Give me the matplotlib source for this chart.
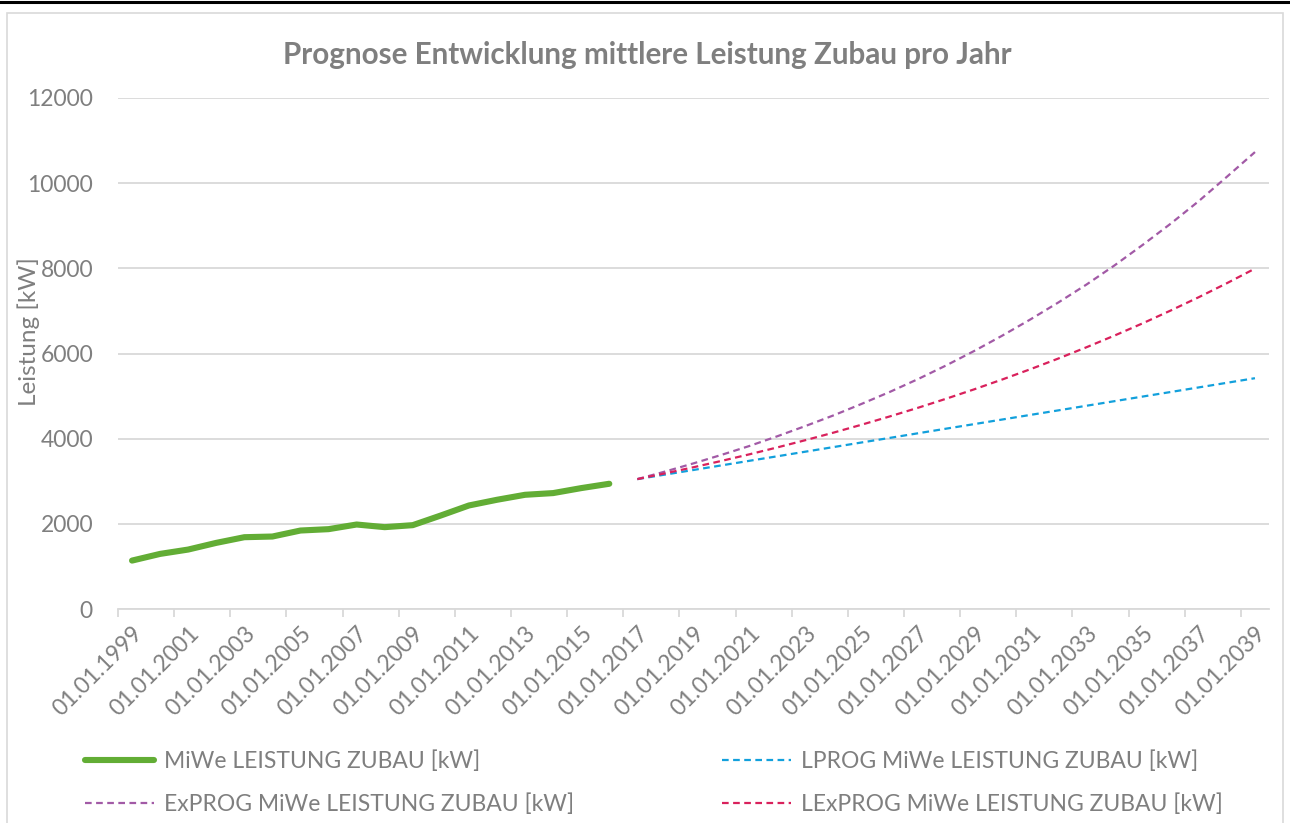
import matplotlib
matplotlib.use("Agg")
import matplotlib.pyplot as plt
from matplotlib.lines import Line2D
from matplotlib.patches import Rectangle
from matplotlib.ticker import FixedLocator, NullFormatter

plt.rcParams['font.family'] = ['Lato', 'DejaVu Sans']

# ---- data ----
years = list(range(1999, 2040))
tick_labels = ["01.01.%d" % y for y in years[::2]]

hist_years = list(range(1999, 2017))
miwe = [1137, 1294, 1396, 1553, 1686, 1702, 1843, 1875, 1984, 1922, 1969,
        2196, 2431, 2565, 2682, 2722, 2839, 2941]

prog_years = list(range(2017, 2040))
lprog = [3050, 3158, 3265, 3373, 3481, 3588, 3696, 3804, 3912, 4019, 4127,
         4235, 4342, 4450, 4558, 4665, 4773, 4881, 4989, 5096, 5204, 5312, 5420]
exprog = [3050, 3230, 3420, 3620, 3830, 4060, 4300, 4550, 4820, 5100, 5400,
          5720, 6060, 6420, 6800, 7200, 7620, 8070, 8550, 9050, 9580, 10150, 10730]
lexprog = [3050, 3187, 3329, 3478, 3634, 3797, 3967, 4144, 4330, 4524, 4726,
           4938, 5159, 5390, 5631, 5883, 6147, 6422, 6709, 7010, 7323, 7651, 7994]

names = ["MiWe LEISTUNG ZUBAU [kW]", "LPROG MiWe LEISTUNG ZUBAU [kW]",
         "ExPROG MiWe LEISTUNG ZUBAU [kW]", "LExPROG MiWe LEISTUNG ZUBAU [kW]"]
title = "Prognose Entwicklung mittlere Leistung Zubau pro Jahr"
ylabel = "Leistung [kW]"

# ---- styles ----
TXT = '#7f7f7f'
GRID = '#d9d9d9'
C_GREEN = '#62ad35'
C_BLUE = '#12a0dc'
C_PURPLE = '#a25aa6'
C_RED = '#d9215c'
FS = 16.5

W, H = 1290, 823
fig = plt.figure(figsize=(W / 100, H / 100), dpi=100)
fig.patch.set_facecolor('white')

# chart frame
fig.add_artist(Rectangle((7 / W, -0.01), (1283 - 7) / W, 1 - 13 / H + 0.01,
                         transform=fig.transFigure, fill=False,
                         edgecolor='#d9d9d9', lw=1.2))
fig.add_artist(Line2D([0, 1], [1 - 1.5 / H, 1 - 1.5 / H],
                      transform=fig.transFigure, color='black', lw=2.2))

ax = fig.add_axes([118 / W, 1 - 609 / H, (1269 - 118) / W, (609 - 98) / H])

xi = {y: i for i, y in enumerate(years)}
hx = [xi[y] for y in hist_years]
px = [xi[y] for y in prog_years]

ax.plot(hx, miwe, color=C_GREEN, lw=4.4, solid_capstyle='round',
        solid_joinstyle='round', label=names[0], zorder=5)
dash = (0, (3.0, 2.0))
ax.plot(px, lprog, color=C_BLUE, lw=1.6, linestyle=dash, label=names[1], zorder=4)
ax.plot(px, exprog, color=C_PURPLE, lw=1.6, linestyle=dash, label=names[2], zorder=4)
ax.plot(px, lexprog, color=C_RED, lw=1.6, linestyle=dash, label=names[3], zorder=4)

ax.set_xlim(-0.5, len(years) - 0.5)
ax.set_ylim(0, 12000)
ax.set_yticks(range(0, 12001, 2000))
ax.yaxis.grid(True, color=GRID, lw=1.3)
ax.set_axisbelow(True)

ax.xaxis.set_major_locator(FixedLocator(list(range(0, len(years), 2))))
ax.set_xticklabels(tick_labels, rotation=45, ha='right', va='top',
                   rotation_mode='anchor', color=TXT, fontsize=FS)
ax.xaxis.set_minor_locator(FixedLocator([i - 0.5 for i in range(0, len(years), 2)]))
ax.xaxis.set_minor_formatter(NullFormatter())
ax.tick_params(axis='x', which='major', length=0, pad=10)
ax.tick_params(axis='x', which='minor', length=6, width=1.3, color=GRID)
ax.tick_params(axis='y', length=0, pad=18, labelcolor=TXT, labelsize=FS)

for s in ['top', 'right', 'left']:
    ax.spines[s].set_visible(False)
ax.spines['bottom'].set_color(GRID)
ax.spines['bottom'].set_linewidth(1.3)

fig.text(647 / W, 1 - 55 / H, title, ha='center', va='center',
         fontsize=21.3, fontweight='bold', color=TXT)
fig.text(29 / W, 1 - 332 / H, ylabel, ha='center', va='center',
         rotation=90, fontsize=17.5, color=TXT)

h = ax.get_lines()
common = dict(loc='upper left', frameon=False, fontsize=FS, labelcolor=TXT,
              handlelength=3.0, handletextpad=0.45, labelspacing=0.93,
              borderaxespad=0, borderpad=0)
fig.legend([h[0], h[2]], [names[0], names[2]],
           bbox_to_anchor=(85 / W, 1 - 750 / H), **common)
fig.legend([h[1], h[3]], [names[1], names[3]],
           bbox_to_anchor=(722 / W, 1 - 750 / H), **common)

fig.savefig('out.png', dpi=100, facecolor='white')
